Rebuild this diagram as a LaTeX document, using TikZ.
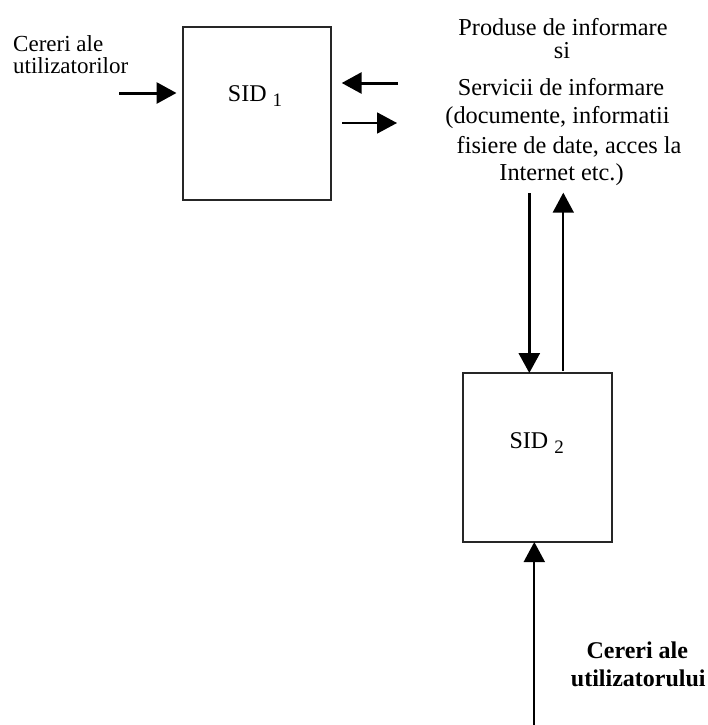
\documentclass[tikz,border=0pt]{standalone}
\usepackage{fontspec}
\usepackage{graphicx}
\setmainfont{Liberation Serif}
\usetikzlibrary{arrows.meta}
\begin{document}
\begin{tikzpicture}[x=1pt,y=-1pt,
  sidbox/.style={draw=black!85, line width=1.7pt, inner sep=0pt, outer sep=0pt},
  bigarrow/.style={line width=3pt, -{Triangle[length=20pt,width=21pt]}},
  thinarrow/.style={line width=1.8pt, -{Triangle[length=20pt,width=21pt]}},
  txtA/.style={inner sep=0pt, anchor=base west, align=left, font=\fontsize{23}{21.5}\selectfont},
  txtB/.style={inner sep=0pt, anchor=base, font=\fontsize{24.3}{24.3}\selectfont},
  txtC/.style={inner sep=0pt, anchor=base, font=\fontsize{24}{24}\selectfont\bfseries},
  sidlab/.style={inner sep=0pt, anchor=base, font=\fontsize{24}{24}\selectfont}
]
\useasboundingbox (0,0) rectangle (708,725);
\fill[white] (0,0) rectangle (708,725);

% boxes
\node[sidbox, minimum width=148pt, minimum height=173pt] (sid1) at (257,113.5) {};
\node[sidbox, minimum width=149pt, minimum height=169pt] (sid2) at (537.5,457.5) {};

% box labels
\node[sidlab] (s1lab) at (255,101.7) {SID \raisebox{-5pt}{\fontsize{19}{19}\selectfont 1}};
\node[sidlab] (s2lab) at (536.7,448.3) {SID \raisebox{-5pt}{\fontsize{19}{19}\selectfont 2}};

% top-left text (base anchor = last line)
\node[txtA] (c1) at (13,73.5) {Cereri ale\\utilizatorilor};

% right text block
\node[txtB] (p1) at (563,35.5) {Produse de informare};
\node[txtB] (p2) at (562,58.5) {si};
\node[txtB] (p3) at (561,95) {Servicii de informare};
\node[txtB] (p4) at (557.5,123.3) {(documente, informatii};
\node[txtB] (p5) at (569,153.3) {fisiere de date, acces la};
\node[txtB] (p6) at (561.5,180) {Internet etc.)};

% bottom bold text
\node[txtC] (b1) at (637.3,658) {Cereri ale};
\node[txtC] (b2) at (638.3,686.7) {utilizatorului};

% connectors
\coordinate (ina) at (119,93);
\draw[bigarrow, shorten >=6.5pt] (ina) -- (ina -| sid1.west);

\coordinate (la) at (398,83);
\draw[bigarrow, shorten >=10.7pt] (la) -- (la -| sid1.east);

\coordinate (ra) at (397,123);
\draw[thinarrow, shorten <=11pt] (ra -| sid1.east) -- (ra);

\coordinate (da) at (529.3,193);
\draw[bigarrow] (da) -- (da |- sid2.north);

\coordinate (ua) at (563.3,192.7);
\draw[thinarrow, shorten <=2pt] (ua |- sid2.north) -- (ua);

\coordinate (ba) at (534.3,725);
\draw[thinarrow] (ba) -- (ba |- sid2.south);
\end{tikzpicture}
\end{document}
